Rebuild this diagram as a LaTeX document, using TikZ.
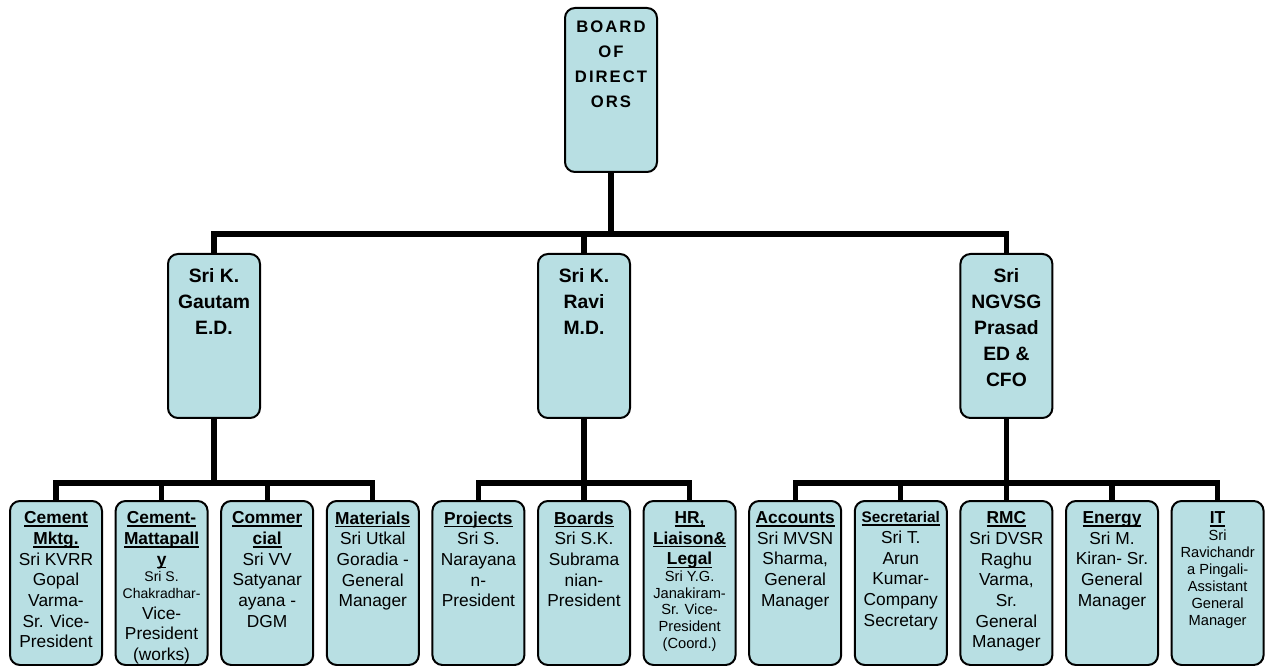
\documentclass[tikz,border=0pt]{standalone}
\usepackage{fontspec}
\setmainfont{Liberation Sans}
\newfontfamily\boardfont[LetterSpace=12]{Liberation Sans}
\usepackage{xcolor}
\definecolor{unitfill}{HTML}{B8DFE3}
\usepackage{tikz}
\usetikzlibrary{positioning, calc}

\newcommand{\unithead}[1]{\leavevmode\setbox0\hbox{\textbf{#1}}\rlap{\rule[-2.3pt]{\wd0}{1.1pt}}\box0}

\tikzset{
    unit/.style={draw=black, line width=1.5pt, fill=unitfill,
        rounded corners=7.5pt, inner sep=0pt, anchor=north,
        execute at begin node={\begin{minipage}[t][123pt][t]{69pt}\centering\vspace*{#1}},
        execute at end node={\end{minipage}}},
    unit/.default=8pt,
    board/.style={unit=9.5pt, font=\boardfont\bfseries\fontsize{12.5}{18.75}\selectfont},
    head/.style={unit=10.5pt, font=\bfseries\fontsize{14.5}{19.5}\selectfont},
    dept/.style={unit=8pt, font=\fontsize{13}{15.5}\selectfont},
    link/.style={line width=4pt, black},
}

\begin{document}
\begin{tikzpicture}[x=0.75pt, y=-0.75pt]
    \useasboundingbox (0,0) rectangle (1271,666);
    \fill[white] (0,0) rectangle (1271,666);

    \node[board] (bod) at (611,7) {BOARD\\OF\\DIRECT\\ORS};

    \node[head] (gautam) at (214,253) {Sri K.\\Gautam\\E.D.};
    \node[head] (ravi) at (584,253) {Sri K.\\Ravi\\M.D.};
    \node[head] (prasad) at (1006.4,253) {Sri\\NGVSG\\Prasad\\ED \&\\CFO};

    % units under the E.D.
    \node[dept] (mktg) at (56,500) {\unithead{Cement}\\\unithead{Mktg.}\\Sri KVRR\\Gopal\\Varma-\\Sr. Vice-\\President};
    \node[dept] (mpally) at (161.6,500) {\unithead{Cement-}\\\unithead{Mattapall}\\\unithead{y}\par
        {\fontsize{10.5}{12.5}\selectfont Sri S.\\Chakradhar-\par}Vice-\\President\\(works)};
    \node[dept] (comml) at (267.2,500) {\unithead{Commer}\\\unithead{cial}\\Sri VV\\Satyanar\\ayana -\\DGM};
    \node[dept] (matl) at (372.8,500) {\unithead{Materials}\\Sri Utkal\\Goradia -\\General\\Manager};

    % units under the M.D.
    \node[dept] (proj) at (478.4,500) {\unithead{Projects}\\Sri S.\\Narayana\\n-\\President};
    \node[dept] (boards) at (584,500) {\unithead{Boards}\\Sri S.K.\\Subrama\\nian-\\President};
    \node[dept] (hrl) at (689.6,500) {\unithead{HR,}\\\unithead{Liaison\&}\\\unithead{Legal}\par
        {\fontsize{11}{12.5}\selectfont Sri Y.G.\\Janakiram-\\Sr. Vice-\\President\\(Coord.)\par}};

    % units under the CFO
    \node[dept] (acct) at (795.2,500) {\unithead{Accounts}\\Sri MVSN\\Sharma,\\General\\Manager};
    \node[dept] (secr) at (900.8,500) {{\fontsize{11.5}{15.5}\selectfont\unithead{Secretarial}\par}Sri T.\\Arun\\Kumar-\\Company\\Secretary};
    \node[dept] (rmc) at (1006.4,500) {\unithead{RMC}\\Sri DVSR\\Raghu\\Varma,\\Sr.\\General\\Manager};
    \node[dept] (energy) at (1112,500) {\unithead{Energy}\\Sri M.\\Kiran- Sr.\\General\\Manager};
    \node[dept] (itd) at (1217.6,500) {\unithead{IT}\par
        {\fontsize{11}{12.75}\selectfont Sri\\Ravichandr\\a Pingali-\\Assistant\\General\\Manager\par}};

    \draw[link] (bod.south) -- ++(0,61) coordinate (bus);
    \draw[link] (gautam.north) |- (bus) -| (prasad.north);
    \draw[link] (bus -| ravi.north) -- (ravi.north);

    \path (gautam.south) ++(0,64) coordinate (gbus);
    \path (ravi.south) ++(0,64) coordinate (rbus);
    \path (prasad.south) ++(0,64) coordinate (pbus);
    \foreach \kid in {mktg,mpally,comml,matl}
        \draw[link] (gautam.south) -- (gbus) -| (\kid.north);
    \foreach \kid in {proj,boards,hrl}
        \draw[link] (ravi.south) -- (rbus) -| (\kid.north);
    \foreach \kid in {acct,secr,rmc,energy,itd}
        \draw[link] (prasad.south) -- (pbus) -| (\kid.north);
\end{tikzpicture}
\end{document}
